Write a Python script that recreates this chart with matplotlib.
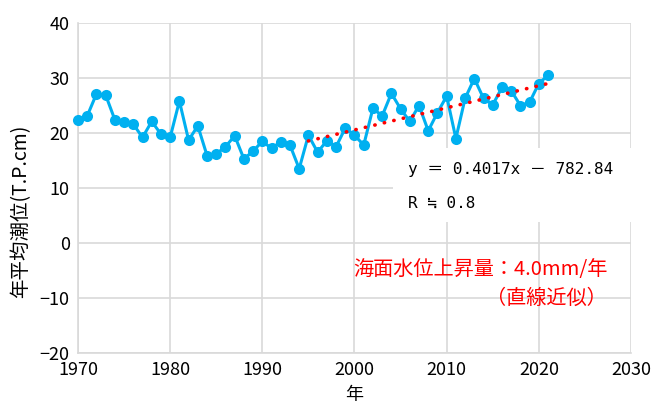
import numpy as np
import matplotlib
matplotlib.use("Agg")
import matplotlib.pyplot as plt
from matplotlib.patches import Rectangle

plt.rcParams['font.family'] = ['Noto Sans CJK JP', 'DejaVu Sans']

# 年平均潮位 (T.P.cm)
years = list(range(1970, 2022))
tide = [22.4, 23.1, 27.1, 26.9, 22.4, 22.0, 21.6, 19.2, 22.1, 19.8,
        19.2, 25.8, 18.7, 21.3, 15.9, 16.2, 17.5, 19.5, 15.3, 16.7,
        18.5, 17.2, 18.4, 17.8, 13.5, 19.6, 16.5, 18.6, 17.5, 20.9,
        19.6, 17.8, 24.5, 23.1, 27.2, 24.4, 22.1, 25.0, 20.4, 23.7,
        26.7, 19.0, 26.3, 29.9, 26.3, 25.1, 28.3, 27.7, 25.0, 25.6,
        29.0, 30.5]

# 近似直線 y = 0.4017x - 782.84
slope = 0.4017
intercept = -782.84
trend_years = [1995, 2021]

blue = '#00B0F0'
grid_c = '#d9d9d9'

fig = plt.figure(figsize=(6.54, 4.03), dpi=100)
ax = fig.add_axes([78/654, 1 - 353/403, (631-78)/654, (353-23)/403])

ax.plot(years, tide, color=blue, lw=2.2, marker='o', ms=8,
        markeredgewidth=0, zorder=3, clip_on=False)

tx = np.array(trend_years, dtype=float)
ax.plot(tx, slope * tx + intercept, color='red', lw=2.6,
        linestyle=(0, (0.1, 2.6)), dash_capstyle='round', zorder=4)

ax.set_xlim(1970, 2030)
ax.set_ylim(-20, 40)
ax.set_xticks(range(1970, 2031, 10))
ax.set_yticks(range(-20, 41, 10))
ax.set_yticklabels(['−20', '−10', '0', '10', '20', '30', '40'])
ax.grid(True, color=grid_c, lw=1.2)
ax.set_axisbelow(True)
ax.tick_params(length=0, labelsize=13, pad=6)
for s in ['top', 'right']:
    ax.spines[s].set_visible(False)
for s in ['left', 'bottom']:
    ax.spines[s].set_color(grid_c)
    ax.spines[s].set_linewidth(1.2)

ax.set_xlabel('年', fontsize=13, labelpad=5)
ax.set_ylabel('年平均潮位(T.P.cm)', fontsize=14)
ax.yaxis.set_label_coords(-0.085, 0.43)

# 数式ボックス
ax.add_patch(Rectangle((0.570, 0.397), 0.43, 0.224, transform=ax.transAxes,
                       facecolor='white', edgecolor='none', zorder=5))
mono = ['DejaVu Sans Mono', 'Noto Sans CJK JP']
ax.text(0.597, 0.555, 'y ＝ 0.4017x － 782.84', transform=ax.transAxes,
        fontsize=11.5, family=mono, va='center', ha='left', zorder=6)
ax.text(0.597, 0.455, 'R ≒ 0.8', transform=ax.transAxes,
        fontsize=11.5, family=mono, va='center', ha='left', zorder=6)

ax.text(0.957, 0.252, '海面水位上昇量：4.0mm/年', transform=ax.transAxes,
        fontsize=14.5, color='red', ha='right', va='center', zorder=5)
ax.text(0.957, 0.167, '（直線近似）', transform=ax.transAxes,
        fontsize=14.5, color='red', ha='right', va='center', zorder=5)

fig.savefig('out.png', dpi=100)
